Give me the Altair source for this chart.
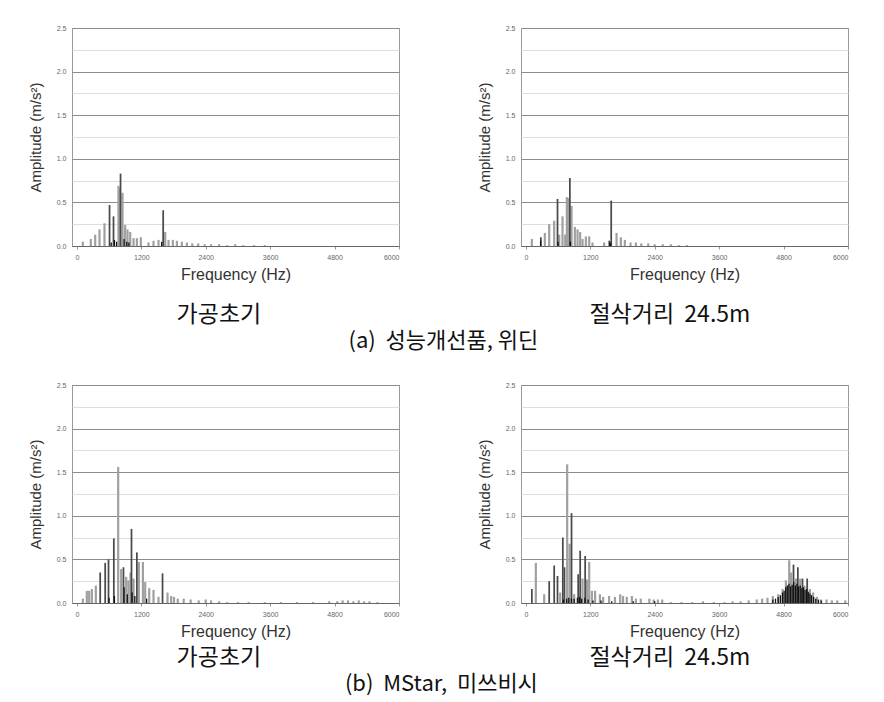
import altair as alt
import pandas as pd

# ---------------- data ----------------
# Panel (a) left : 가공초기
a1_gray_f = [112, 260, 342, 422, 515, 776, 795, 851, 900, 944, 994, 1056, 1118, 1192, 1335, 1428, 1521,
             1646, 1708, 1788, 1863, 1956, 2049, 2150, 2260, 2380, 2500, 2650, 2800, 2950, 3100, 3300, 3500]
a1_gray_a = [0.05, 0.08, 0.13, 0.19, 0.26, 0.69, 0.66, 0.61, 0.24, 0.19, 0.16, 0.09, 0.09, 0.10, 0.04, 0.06, 0.07,
             0.16, 0.07, 0.07, 0.06, 0.05, 0.04, 0.03, 0.03, 0.02, 0.02, 0.02, 0.01, 0.02, 0.01, 0.01, 0.01]
a1_dark_f = [609, 683, 814, 1608]
a1_dark_a = [0.47, 0.34, 0.83, 0.41]
a1_black_f = [640, 700, 740, 880, 930, 970, 1580]
a1_black_a = [0.04, 0.07, 0.05, 0.08, 0.05, 0.04, 0.05]

# Panel (a) right : 절삭거리 24.5m
a2_gray_f = [112, 354, 435, 528, 621, 683, 733, 764, 789, 851, 913, 963, 1012, 1056, 1118, 1180, 1242, 1459,
             1689, 1770, 1844, 1950, 2050, 2150, 2280, 2400, 2550, 2700, 2850, 3000]
a2_gray_a = [0.08, 0.15, 0.25, 0.29, 0.13, 0.34, 0.13, 0.56, 0.55, 0.46, 0.22, 0.19, 0.16, 0.08, 0.11, 0.11, 0.04, 0.04,
             0.15, 0.10, 0.07, 0.04, 0.04, 0.03, 0.03, 0.02, 0.02, 0.02, 0.01, 0.01]
a2_dark_f = [280, 590, 820, 1590]
a2_dark_a = [0.10, 0.54, 0.78, 0.52]
a2_black_f = [275, 600, 830, 1553, 1575]
a2_black_a = [0.06, 0.05, 0.05, 0.06, 0.04]

# Panel (b) left : 가공초기
b1_gray_f = [112, 186, 230, 280, 354, 770, 826, 919, 960, 1000, 1056, 1155, 1230, 1273, 1348, 1428, 1521,
             1689, 1757, 1810, 1880, 1990, 2120, 2270, 2400, 2500, 2650, 2800, 3000, 3200, 3500, 3800, 4100,
             4400, 4700, 4850, 4950, 5050, 5150, 5250, 5350, 5450, 5600]
b1_gray_a = [0.05, 0.14, 0.14, 0.16, 0.20, 1.56, 0.39, 0.30, 0.26, 0.35, 0.28, 0.47, 0.47, 0.24, 0.17, 0.15, 0.07,
             0.12, 0.08, 0.07, 0.05, 0.05, 0.04, 0.03, 0.04, 0.03, 0.02, 0.01, 0.01, 0.01, 0.01, 0.01, 0.01,
             0.01, 0.02, 0.02, 0.03, 0.03, 0.02, 0.03, 0.02, 0.02, 0.01]
b1_dark_f = [435, 528, 590, 689, 869, 1018, 1118, 1596]
b1_dark_a = [0.35, 0.46, 0.50, 0.74, 0.41, 0.85, 0.58, 0.34]
b1_black_f = [600, 700, 880, 940, 1030, 1080, 1300]
b1_black_a = [0.06, 0.08, 0.18, 0.10, 0.12, 0.08, 0.05]

# Panel (b) right : 절삭거리 24.5m
b2_gray_f = [186, 342, 640, 770, 814, 900, 1056, 1140, 1180, 1230, 1290, 1380, 1440, 1550, 1660, 1757, 1810,
             1880, 1975, 2050, 2140, 2300, 2380, 2460, 2540, 2700, 2900, 3100, 3300, 3500, 3700, 3850, 4000,
             4150, 4300, 4400, 4500, 4600, 4700, 4782, 4844, 4905, 4940, 5030, 5110, 5190, 5290, 5350, 5420,
             5500, 5600, 5700, 5800, 5950]
b2_gray_a = [0.46, 0.10, 0.12, 1.59, 0.68, 0.10, 0.28, 0.27, 0.47, 0.14, 0.14, 0.10, 0.07, 0.08, 0.07, 0.10, 0.08,
             0.07, 0.08, 0.05, 0.05, 0.05, 0.04, 0.04, 0.04, 0.01, 0.01, 0.01, 0.02, 0.01, 0.01, 0.02, 0.02,
             0.03, 0.04, 0.05, 0.06, 0.08, 0.10, 0.16, 0.26, 0.49, 0.35, 0.28, 0.28, 0.20, 0.16, 0.12, 0.07,
             0.04, 0.04, 0.03, 0.03, 0.03]
b2_dark_f = [112, 435, 528, 590, 689, 720, 851, 975, 1012, 1105, 4985, 5066, 5152, 5240]
b2_dark_a = [0.16, 0.25, 0.43, 0.31, 0.75, 0.41, 1.03, 0.33, 0.60, 0.54, 0.44, 0.41, 0.28, 0.28]
b2_black_f = [700, 760, 800, 850, 900, 960, 1000, 1040, 1100, 1160, 1250, 1400, 1600, 2000, 2400,
              4600, 4650, 4700, 4740, 4780, 4810, 4840, 4870, 4900, 4930, 4960, 4990, 5020, 5050, 5080,
              5110, 5140, 5170, 5200, 5230, 5260, 5290, 5320, 5360, 5400, 5450, 5500]
b2_black_a = [0.04, 0.05, 0.06, 0.05, 0.05, 0.06, 0.07, 0.05, 0.06, 0.04, 0.03, 0.03, 0.02, 0.02, 0.02,
              0.04, 0.05, 0.07, 0.09, 0.12, 0.14, 0.18, 0.20, 0.22, 0.19, 0.21, 0.24, 0.20, 0.22, 0.19,
              0.20, 0.17, 0.18, 0.15, 0.16, 0.13, 0.11, 0.09, 0.07, 0.05, 0.04, 0.03]

x_ticks = [0, 1200, 2400, 3600, 4800, 6000]
y_ticks = [0, 0.25, 0.5, 0.75, 1.0, 1.25, 1.5, 1.75, 2.0, 2.25, 2.5]

NB = "\u00a0"
panel_titles = ["가공초기", "절삭거리" + NB + NB + "24.5m", "가공초기", "절삭거리" + NB + NB + "24.5m"]
row_titles = ["(a)" + NB + NB + "성능개선품," + NB + "위딘", "(b)" + NB + NB + "MStar," + NB + NB + "미쓰비시"]


def frame(gf, ga, df_, da, bf, ba):
    rows = []
    for f, a in zip(gf, ga):
        rows.append({"freq": f, "amp": a, "series": "gray"})
    for f, a in zip(df_, da):
        rows.append({"freq": f, "amp": a, "series": "dark"})
    for f, a in zip(bf, ba):
        rows.append({"freq": f, "amp": a, "series": "black"})
    return pd.DataFrame(rows)


KFONT = "Noto Sans CJK KR"
AFONT = "Liberation Sans"


def panel(df, title, offset, dx):
    x = alt.X("freq:Q", scale=alt.Scale(domain=[-90, 6000], nice=False, zero=False),
              axis=alt.Axis(values=x_ticks, format="d", title="Frequency (Hz)", grid=False,
                            labelFontSize=7, labelColor="#666", labelFont=AFONT,
                            tickSize=3, tickColor="#999", domainColor="#666",
                            titleFont=AFONT, titleFontSize=16, titleFontWeight="normal",
                            titleColor="#333", titlePadding=6, labelPadding=4))
    y = alt.Y("amp:Q", scale=alt.Scale(domain=[0, 2.5], nice=False),
              axis=alt.Axis(values=y_ticks, title="Amplitude (m/s²)",
                            labelExpr="datum.value % 0.5 === 0 ? format(datum.value, '.1f') : ''",
                            labelFontSize=7, labelColor="#666", labelFont=AFONT,
                            ticks=False, domain=False, labelPadding=6,
                            gridColor=alt.condition("datum.value % 0.5 === 0",
                                                    alt.value("#8c8c8c"), alt.value("#dedede")),
                            titleFont=AFONT, titleFontSize=15, titleFontWeight="normal",
                            titleColor="#333", titlePadding=13))
    return alt.Chart(df).mark_rule().encode(
        x=x,
        y=y,
        y2=alt.datum(0),
        color=alt.Color("series:N", scale=alt.Scale(domain=["gray", "dark", "black"],
                                                    range=["#a0a0a0", "#4a4a4a", "#111111"]),
                        legend=None),
        strokeWidth=alt.StrokeWidth("series:N", scale=alt.Scale(domain=["gray", "dark", "black"],
                                                                range=[2.2, 1.3, 1.4]),
                                    legend=None),
    ).properties(
        width=327, height=218,
        title=alt.TitleParams(title, orient="bottom", font=KFONT, fontSize=23, fontWeight="normal",
                              color="#111", offset=offset, frame="bounds", anchor="middle", dx=dx),
    )


p1 = panel(frame(a1_gray_f, a1_gray_a, a1_dark_f, a1_dark_a, a1_black_f, a1_black_a), panel_titles[0], 22, 5)
p2 = panel(frame(a2_gray_f, a2_gray_a, a2_dark_f, a2_dark_a, a2_black_f, a2_black_a), panel_titles[1], 22, 7)
p3 = panel(frame(b1_gray_f, b1_gray_a, b1_dark_f, b1_dark_a, b1_black_f, b1_black_a), panel_titles[2], 8, 5)
p4 = panel(frame(b2_gray_f, b2_gray_a, b2_dark_f, b2_dark_a, b2_black_f, b2_black_a), panel_titles[3], 8, 7)

row_title_style = dict(orient="bottom", font=KFONT, fontSize=22, fontWeight="normal",
                       color="#111", anchor="middle", offset=3)

row1 = alt.hconcat(p1, p2, spacing=76,
                   title=alt.TitleParams(row_titles[0], dx=5, **row_title_style))
row2 = alt.hconcat(p3, p4, spacing=76,
                   title=alt.TitleParams(row_titles[1], dx=3, **row_title_style))

chart = alt.vconcat(row1, row2, spacing=28).properties(
    padding={"left": 27, "top": 23, "right": 10, "bottom": 5},
    background="white",
).configure_view(stroke="#9a9a9a", strokeWidth=1)

chart.save("out.html", embed_options={"renderer": "svg", "actions": False})
